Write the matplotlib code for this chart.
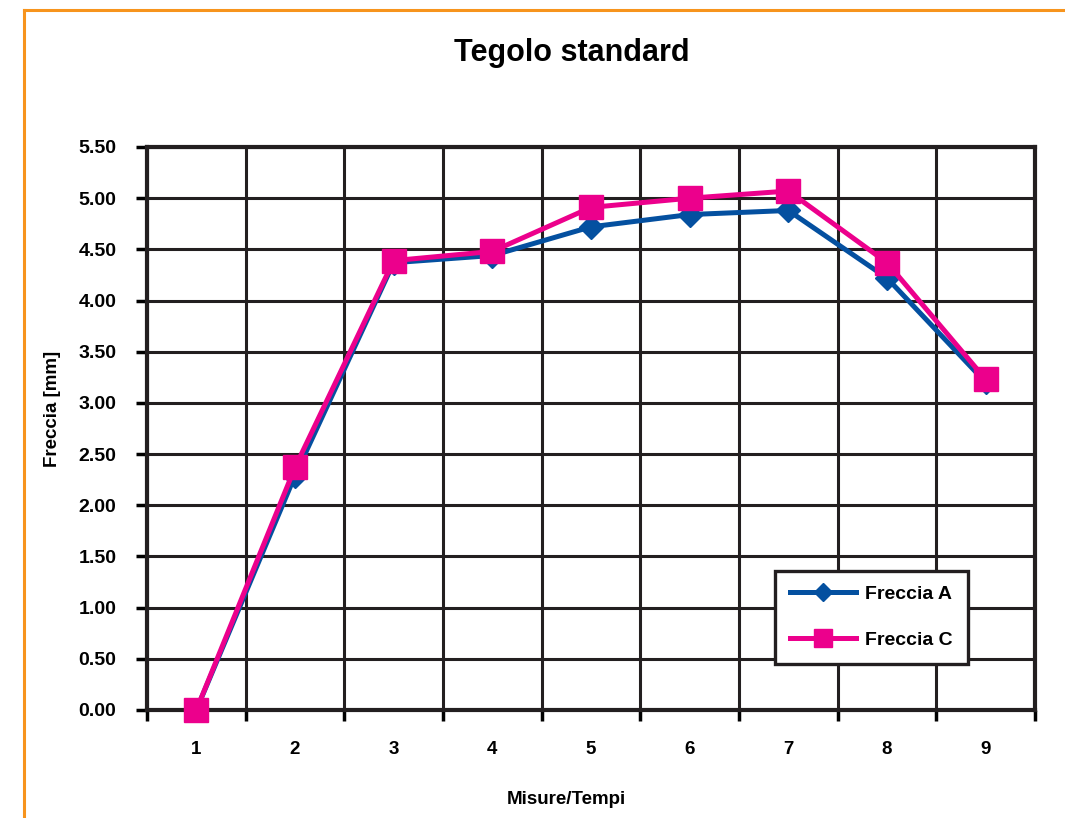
import matplotlib

matplotlib.use("Agg")
import matplotlib.pyplot as plt
import numpy as np

plt.rcParams["font.family"] = ["Liberation Sans", "DejaVu Sans"]
plt.rcParams["font.weight"] = "bold"

# Data
categories = ["1", "2", "3", "4", "5", "6", "7", "8", "9"]
freccia_a = [0.00, 2.29, 4.37, 4.44, 4.72, 4.84, 4.88, 4.22, 3.20]
freccia_c = [0.00, 2.37, 4.39, 4.48, 4.91, 5.00, 5.07, 4.37, 3.23]
yticks = [0.0, 0.5, 1.0, 1.5, 2.0, 2.5, 3.0, 3.5, 4.0, 4.5, 5.0, 5.5]

blue = "#0450A0"
magenta = "#EC008C"
orange = "#F7941D"
ink = "#231F20"


def main():
    fig = plt.figure(figsize=(10.65, 8.18), dpi=100)
    ax = fig.add_axes([147 / 1065, 1 - 710 / 818, (1035 - 147) / 1065, (710 - 147) / 818])

    # orange frame (top and left edges)
    fig.add_artist(plt.Line2D([24 / 1065, 1.0], [1 - 10 / 818, 1 - 10 / 818],
                              transform=fig.transFigure, color=orange, lw=2.2))
    fig.add_artist(plt.Line2D([24 / 1065, 24 / 1065], [0.0, 1 - 10 / 818],
                              transform=fig.transFigure, color=orange, lw=2.2))

    x = np.arange(1, len(categories) + 1)
    ax.plot(x, freccia_a, color=blue, lw=3.6, marker="D", ms=12,
            label="Freccia A", zorder=3, clip_on=False)
    ax.plot(x, freccia_c, color=magenta, lw=3.6, marker="s", ms=17,
            label="Freccia C", zorder=4, clip_on=False)

    ax.set_xlim(0.5, len(categories) + 0.5)
    ax.set_ylim(0, 5.5)

    # category boundaries carry gridlines and ticks, labels sit at centres
    ax.set_xticks(np.arange(0.5, len(categories) + 1, 1.0))
    ax.set_xticklabels([])
    ax.set_xticks(x, minor=True)
    ax.set_xticklabels(categories, minor=True, fontsize=13.5, fontweight="bold")
    ax.tick_params(axis="x", which="minor", length=0, pad=22)
    ax.tick_params(axis="x", which="major", length=8, width=2.5, direction="out")

    ax.set_yticks(yticks)
    ax.set_yticklabels(["%.2f" % v for v in yticks], fontsize=14, fontweight="bold")
    ax.tick_params(axis="y", length=8, width=2.5, direction="out", pad=14)

    ax.grid(True, which="major", color=ink, lw=2.2)
    ax.set_axisbelow(True)
    for s in ax.spines.values():
        s.set_linewidth(3)
        s.set_color(ink)

    ax.set_ylabel("Freccia [mm]", fontsize=13.5, fontweight="bold")
    ax.yaxis.set_label_coords(-0.097, 0.535)
    fig.text(566 / 1065, 1 - 800 / 818, "Misure/Tempi", ha="center", va="center",
             fontsize=13.5, fontweight="bold")
    fig.text(572 / 1065, 1 - 53 / 818, "Tegolo standard", ha="center", va="center",
             fontsize=22, fontweight="bold")

    leg = ax.legend(loc="upper left", bbox_to_anchor=(775 / 1065, 1 - 571 / 818),
                    bbox_transform=fig.transFigure, fontsize=14, frameon=True,
                    fancybox=False, framealpha=1, borderpad=0.75, labelspacing=1.45,
                    handlelength=3.4, handletextpad=0.5, markerscale=0.8,
                    borderaxespad=0)
    leg.get_frame().set_edgecolor(ink)
    leg.get_frame().set_linewidth(2.4)
    for t in leg.get_texts():
        t.set_fontweight("bold")
    leg.set_zorder(10)

    fig.savefig("out.png", dpi=100)


if __name__ == "__main__":
    main()
